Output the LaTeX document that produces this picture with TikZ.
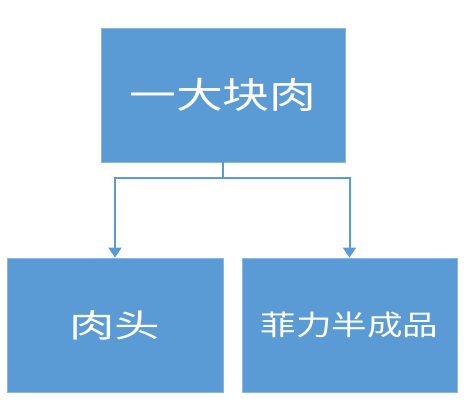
\documentclass[tikz,border=0pt]{standalone}
\usepackage{fontspec}
\usepackage{graphicx}
\newfontfamily\cjk{Noto Sans CJK SC}
\usetikzlibrary{arrows.meta}
\definecolor{boxblue}{HTML}{5B9BD5}
\definecolor{boxedge}{HTML}{8DB6DF}
\begin{document}
\begin{tikzpicture}[x=1pt,y=-1pt]
\tikzset{
  box/.style={draw=boxedge, line width=0.8pt, fill=boxblue, text=white, inner sep=0pt, minimum height=134pt, font=\cjk},
  conn/.style={draw=boxblue, line width=2pt, -{Triangle[width=13pt,length=10pt]}}
}
\useasboundingbox (0,0) rectangle (467,415);
\fill[white] (0,0) rectangle (467,415);
\node[box, minimum width=244pt] (top) at (223,95) {\fontsize{36}{40}\selectfont\scalebox{1.3}[1]{一大块肉}};
\node[box, minimum width=216pt] (left) at (115,325) {\fontsize{32}{36}\selectfont\scalebox{1.42}[1]{肉头}};
\node[box, minimum width=215pt] (right) at (349.5,325) {\fontsize{28}{32}\selectfont\scalebox{1.27}[1]{菲力半成品}};
\coordinate (mid) at ([yshift=-16pt]top.south);
\draw[conn] (top.south) -- (mid) -| (left.north);
\draw[conn] (top.south) -- (mid) -| (right.north);
\end{tikzpicture}
\end{document}
